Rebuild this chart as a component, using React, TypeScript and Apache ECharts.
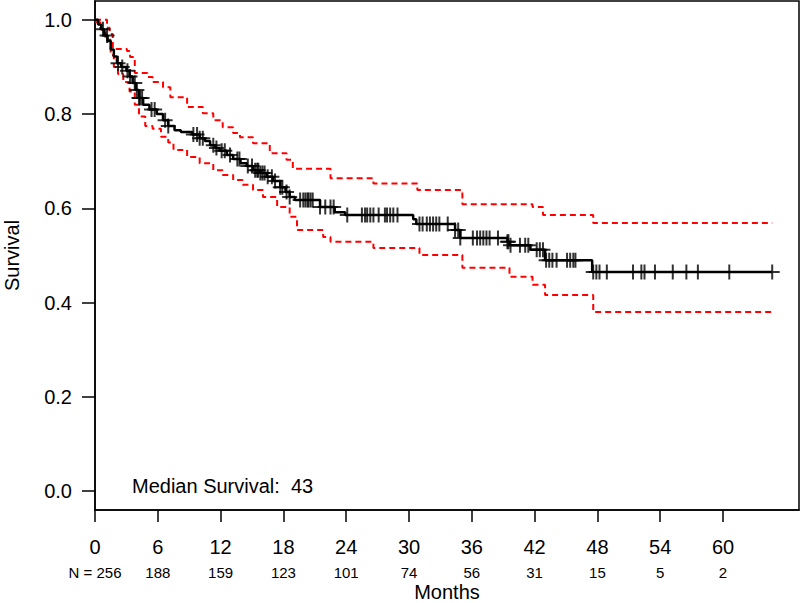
import { useEffect, useRef } from "react";
import * as echarts from "echarts";

const monthTicks = [0, 6, 12, 18, 24, 30, 36, 42, 48, 54, 60];
const nAtRisk = [256, 188, 159, 123, 101, 74, 56, 31, 15, 5, 2];
const survivalTicks = [0, 0.2, 0.4, 0.6, 0.8, 1.0];
const medianSurvival = 43;
const followUpEnd = 64.7;

// Kaplan-Meier estimate: [month, survival] (value holds from month onward)
const kmSteps: [number, number][] = [
  [0, 1.0], [0.3, 0.99], [0.6, 0.98], [0.9, 0.967], [1.2, 0.955], [1.5, 0.937],
  [1.8, 0.922], [2.1, 0.908], [2.5, 0.9], [3.0, 0.892], [3.3, 0.88], [3.6, 0.866],
  [3.9, 0.851], [4.2, 0.834], [4.6, 0.82], [5.2, 0.81], [5.9, 0.8], [6.5, 0.787],
  [7.0, 0.775], [7.6, 0.766], [8.2, 0.762], [9.3, 0.757], [10.0, 0.749],
  [10.5, 0.743], [11.0, 0.734], [11.5, 0.728], [11.9, 0.722], [12.6, 0.713],
  [13.2, 0.705], [13.9, 0.696], [14.5, 0.69], [15.1, 0.681], [15.8, 0.675],
  [16.4, 0.667], [17.0, 0.658], [17.7, 0.645], [18.2, 0.635], [18.6, 0.624],
  [19.1, 0.618], [21.5, 0.603], [22.9, 0.592], [23.9, 0.586], [30.4, 0.577],
  [30.7, 0.567], [34.4, 0.554], [34.9, 0.537], [39.4, 0.529], [39.6, 0.522],
  [41.6, 0.512], [43.0, 0.49], [47.5, 0.465],
];

const upperSteps: [number, number][] = [
  [0, 1.0], [1.15, 0.983], [1.4, 0.97], [1.7, 0.938], [3.05, 0.934], [3.35, 0.921],
  [3.8, 0.887], [5.0, 0.879], [5.5, 0.868], [6.5, 0.857], [7.2, 0.836], [8.8, 0.815],
  [10.3, 0.802], [11.3, 0.787], [12.2, 0.772], [13.2, 0.76], [13.85, 0.751],
  [15.1, 0.738], [16.7, 0.717], [18.3, 0.703], [18.9, 0.684], [22.5, 0.664],
  [26.6, 0.653], [30.8, 0.639], [35.1, 0.609], [41.8, 0.603], [42.8, 0.586],
  [47.6, 0.569],
];

const lowerSteps: [number, number][] = [
  [0, 0.995], [0.5, 0.98], [1.0, 0.958], [1.5, 0.925], [1.8, 0.9], [2.2, 0.885],
  [2.7, 0.868], [3.3, 0.848], [3.8, 0.82], [4.2, 0.795], [4.8, 0.775], [5.5, 0.769],
  [6.3, 0.752], [7.0, 0.74], [7.5, 0.724], [8.8, 0.709], [10.0, 0.696], [11.3, 0.681],
  [12.2, 0.671], [13.2, 0.66], [14.1, 0.65], [15.1, 0.639], [16.05, 0.624],
  [17.4, 0.603], [18.6, 0.582], [19.3, 0.554], [21.8, 0.539], [22.5, 0.529],
  [26.6, 0.516], [31.0, 0.501], [35.1, 0.474], [39.6, 0.455], [41.8, 0.438],
  [43.0, 0.416], [47.6, 0.38],
];

const censorTimes = [
  0.76, 1.15, 2.2, 2.6, 3.1, 3.35, 3.8, 4.0, 4.2, 4.3, 4.5, 5.4, 5.7, 6.7, 7.0, 9.4,
  9.75, 10.0, 10.3, 11.3, 11.6, 12.1, 12.4, 12.9, 13.6, 13.8, 14.6, 15.0, 15.3, 15.5,
  15.6, 15.8, 16.0, 16.2, 16.5, 16.9, 17.2, 17.7, 17.9, 18.3, 18.6, 19.6, 19.9, 20.1,
  20.3, 20.4, 20.6, 20.8, 21.5, 22.0, 22.5, 22.8, 24.1, 25.5, 25.8, 26.0, 26.3, 26.6,
  27.1, 27.7, 27.9, 28.2, 28.5, 28.9, 31.0, 31.3, 31.7, 32.0, 32.3, 32.6, 32.9, 33.7,
  34.4, 34.7, 34.9, 36.1, 36.5, 36.8, 37.1, 37.4, 37.7, 38.5, 39.4, 39.5, 39.7, 40.6,
  41.1, 41.4, 42.2, 42.5, 42.8, 43.1, 43.4, 43.7, 44.1, 45.1, 45.4, 45.7, 45.9, 47.6,
  47.9, 48.2, 48.9, 51.4, 52.2, 52.5, 53.5, 55.2, 56.5, 57.6, 60.6, 64.7,
];

const FONT = "'Liberation Sans', Arial, Helvetica, sans-serif";
const X_MAX = 67.26;

function withEnd(steps: [number, number][]): [number, number][] {
  return [...steps, [followUpEnd, steps[steps.length - 1][1]]];
}

function survivalAt(t: number): number {
  let s = kmSteps[0][1];
  for (const [time, val] of kmSteps) {
    if (time <= t) s = val;
    else break;
  }
  return s;
}

export default function App() {
  const ref = useRef<HTMLDivElement>(null);
  useEffect(() => {
    if (!ref.current) return;
    const chart = echarts.init(ref.current, undefined, { renderer: "svg" });
    const axisLineStyle = { color: "#000", width: 1.5 };
    chart.setOption({
      animation: false,
      backgroundColor: "#fff",
      grid: {
        left: 95, top: 1, right: 1, bottom: 93, show: true,
        borderColor: "#000", borderWidth: 1.5, backgroundColor: "transparent",
        containLabel: false, outerBoundsMode: "none",
      },
      xAxis: [
        {
          type: "value", min: 0, max: X_MAX, position: "bottom",
          axisLine: { show: true, onZero: false, lineStyle: axisLineStyle },
          axisTick: { show: true, length: 12, customValues: monthTicks, lineStyle: axisLineStyle },
          axisLabel: {
            customValues: monthTicks, margin: 27, fontSize: 20, color: "#000", fontFamily: FONT,
          },
          splitLine: { show: false },
          name: "Months", nameLocation: "middle", nameGap: 72,
          nameTextStyle: { fontSize: 20, color: "#000", fontFamily: FONT },
        },
        {
          type: "value", min: 0, max: X_MAX, position: "bottom",
          axisLine: { show: false }, axisTick: { show: false },
          axisLabel: {
            customValues: monthTicks, margin: 55, fontSize: 15, color: "#000", fontFamily: FONT,
            formatter: (v: number) => {
              const i = monthTicks.indexOf(Math.round(v));
              if (i < 0) return "";
              return i === 0 ? `N = ${nAtRisk[0]}` : String(nAtRisk[i]);
            },
          },
          splitLine: { show: false },
        },
      ],
      yAxis: {
        type: "value", min: -0.04, max: 1.04,
        axisLine: { show: true, onZero: false, lineStyle: axisLineStyle },
        axisTick: { show: true, length: 13, customValues: survivalTicks, lineStyle: axisLineStyle },
        axisLabel: {
          customValues: survivalTicks, margin: 23, fontSize: 20, color: "#000", fontFamily: FONT,
          formatter: (v: number) => v.toFixed(1),
        },
        splitLine: { show: false },
        name: "Survival", nameLocation: "middle", nameGap: 73,
        nameTextStyle: { fontSize: 20, color: "#000", fontFamily: FONT },
      },
      series: [
        {
          type: "line", step: "end", data: withEnd(upperSteps), symbol: "none",
          lineStyle: { color: "#ff0000", width: 2, type: [6, 4] }, z: 2,
        },
        {
          type: "line", step: "end", data: withEnd(lowerSteps), symbol: "none",
          lineStyle: { color: "#ff0000", width: 2, type: [6, 4] }, z: 2,
        },
        {
          type: "line", step: "end", data: withEnd(kmSteps), symbol: "none",
          lineStyle: { color: "#000", width: 2.5 }, z: 3,
        },
        {
          type: "scatter", data: censorTimes.map((t) => [t, survivalAt(t)]),
          symbol: "path://M7,0L7,14M0,7L14,7", symbolSize: 15,
          itemStyle: { color: "transparent", borderColor: "#000", borderWidth: 2 },
          z: 4,
        },
      ],
      graphic: [
        {
          type: "text", left: 132, top: 476,
          style: { text: `Median Survival:  ${medianSurvival}`, fontSize: 20, fill: "#000", fontFamily: FONT },
        },
      ],
    });
    return () => chart.dispose();
  }, []);
  return (
    <div
      ref={ref}
      style={{ position: "fixed", left: 0, top: 0, width: 800, height: 603 }}
    />
  );
}
